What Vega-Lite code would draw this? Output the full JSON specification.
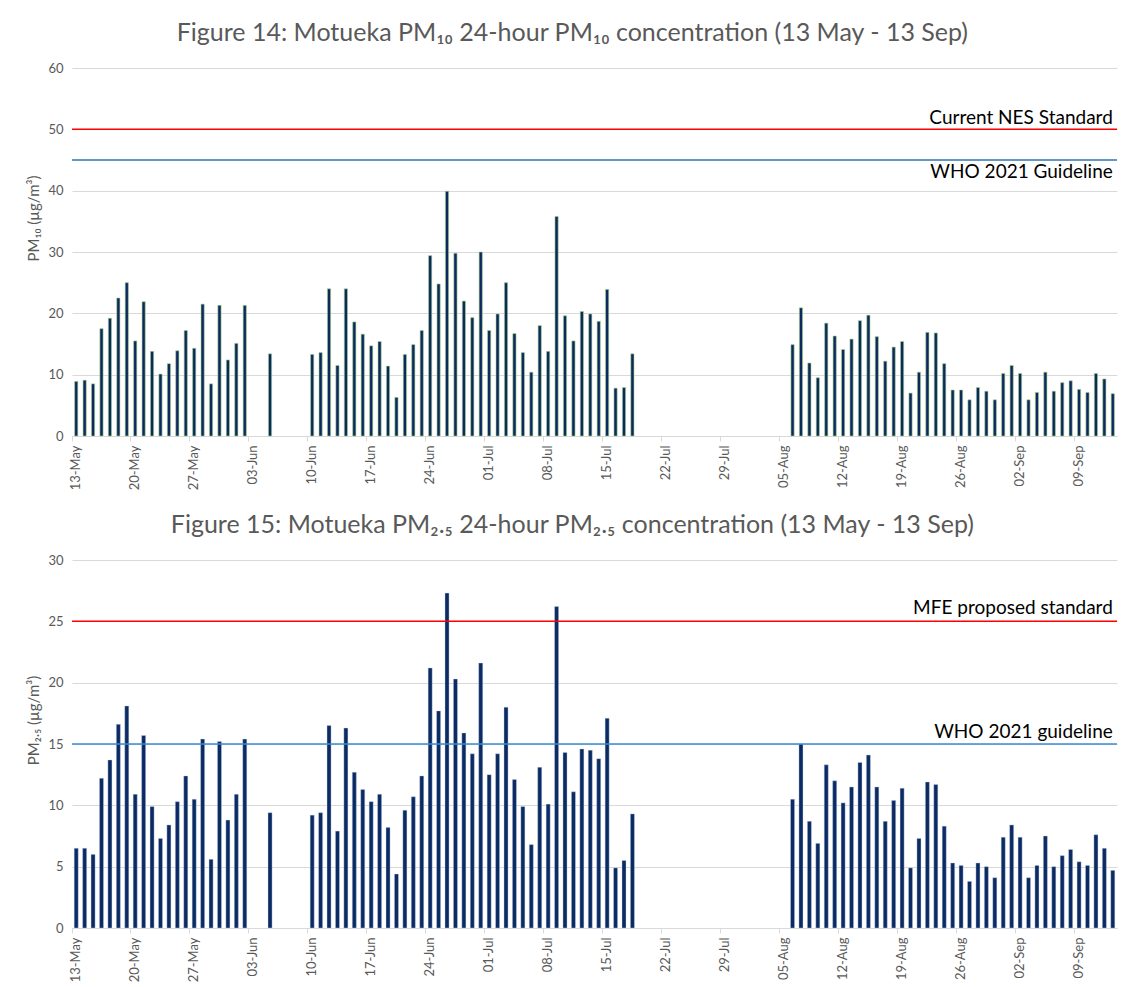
{
  "$schema": "https://vega.github.io/schema/vega-lite/v6.json",
  "padding": {"left": 26, "top": 21, "right": 6, "bottom": 4},
  "background": "white",
  "spacing": 23,
  "config": {
    "font": "Lato",
    "view": {"stroke": null},
    "title": {"fontSize": 25, "fontWeight": "normal", "color": "#595959", "offset": 16, "font": "Lato", "frame": "bounds"},
    "axis": {"labelColor": "#595959", "labelFontSize": 13, "titleColor": "#595959", "titleFontSize": 15, "titleFontWeight": "normal", "gridColor": "#D9D9D9", "domainColor": "#D9D9D9", "tickColor": "#D9D9D9"}
  },
  "datasets": {
    "pm": [
      {"d": "13-May", "pm10": 8.9, "pm25": 6.5},
      {"d": "14-May", "pm10": 9.1, "pm25": 6.5},
      {"d": "15-May", "pm10": 8.5, "pm25": 6.0},
      {"d": "16-May", "pm10": 17.5, "pm25": 12.2},
      {"d": "17-May", "pm10": 19.2, "pm25": 13.7},
      {"d": "18-May", "pm10": 22.5, "pm25": 16.6},
      {"d": "19-May", "pm10": 25.0, "pm25": 18.1},
      {"d": "20-May", "pm10": 15.5, "pm25": 10.9},
      {"d": "21-May", "pm10": 21.9, "pm25": 15.7},
      {"d": "22-May", "pm10": 13.8, "pm25": 9.9},
      {"d": "23-May", "pm10": 10.1, "pm25": 7.3},
      {"d": "24-May", "pm10": 11.8, "pm25": 8.4},
      {"d": "25-May", "pm10": 13.9, "pm25": 10.3},
      {"d": "26-May", "pm10": 17.2, "pm25": 12.4},
      {"d": "27-May", "pm10": 14.3, "pm25": 10.5},
      {"d": "28-May", "pm10": 21.5, "pm25": 15.4},
      {"d": "29-May", "pm10": 8.5, "pm25": 5.6},
      {"d": "30-May", "pm10": 21.3, "pm25": 15.2},
      {"d": "31-May", "pm10": 12.4, "pm25": 8.8},
      {"d": "01-Jun", "pm10": 15.1, "pm25": 10.9},
      {"d": "02-Jun", "pm10": 21.3, "pm25": 15.4},
      {"d": "05-Jun", "pm10": 13.4, "pm25": 9.4},
      {"d": "10-Jun", "pm10": 13.3, "pm25": 9.2},
      {"d": "11-Jun", "pm10": 13.6, "pm25": 9.4},
      {"d": "12-Jun", "pm10": 24.0, "pm25": 16.5},
      {"d": "13-Jun", "pm10": 11.5, "pm25": 7.9},
      {"d": "14-Jun", "pm10": 24.0, "pm25": 16.3},
      {"d": "15-Jun", "pm10": 18.6, "pm25": 12.7},
      {"d": "16-Jun", "pm10": 16.6, "pm25": 11.3},
      {"d": "17-Jun", "pm10": 14.7, "pm25": 10.3},
      {"d": "18-Jun", "pm10": 15.4, "pm25": 10.9},
      {"d": "19-Jun", "pm10": 11.4, "pm25": 8.2},
      {"d": "20-Jun", "pm10": 6.3, "pm25": 4.4},
      {"d": "21-Jun", "pm10": 13.3, "pm25": 9.6},
      {"d": "22-Jun", "pm10": 14.9, "pm25": 10.7},
      {"d": "23-Jun", "pm10": 17.2, "pm25": 12.4},
      {"d": "24-Jun", "pm10": 29.4, "pm25": 21.2},
      {"d": "25-Jun", "pm10": 24.8, "pm25": 17.7},
      {"d": "26-Jun", "pm10": 39.9, "pm25": 27.3},
      {"d": "27-Jun", "pm10": 29.8, "pm25": 20.3},
      {"d": "28-Jun", "pm10": 22.0, "pm25": 15.9},
      {"d": "29-Jun", "pm10": 19.3, "pm25": 14.2},
      {"d": "30-Jun", "pm10": 30.0, "pm25": 21.6},
      {"d": "01-Jul", "pm10": 17.2, "pm25": 12.5},
      {"d": "02-Jul", "pm10": 19.9, "pm25": 14.2},
      {"d": "03-Jul", "pm10": 25.0, "pm25": 18.0},
      {"d": "04-Jul", "pm10": 16.7, "pm25": 12.1},
      {"d": "05-Jul", "pm10": 13.6, "pm25": 9.9},
      {"d": "06-Jul", "pm10": 10.4, "pm25": 6.8},
      {"d": "07-Jul", "pm10": 18.0, "pm25": 13.1},
      {"d": "08-Jul", "pm10": 13.8, "pm25": 10.1},
      {"d": "09-Jul", "pm10": 35.8, "pm25": 26.2},
      {"d": "10-Jul", "pm10": 19.6, "pm25": 14.3},
      {"d": "11-Jul", "pm10": 15.5, "pm25": 11.1},
      {"d": "12-Jul", "pm10": 20.3, "pm25": 14.6},
      {"d": "13-Jul", "pm10": 19.9, "pm25": 14.5},
      {"d": "14-Jul", "pm10": 18.7, "pm25": 13.8},
      {"d": "15-Jul", "pm10": 23.9, "pm25": 17.1},
      {"d": "16-Jul", "pm10": 7.8, "pm25": 4.9},
      {"d": "17-Jul", "pm10": 7.9, "pm25": 5.5},
      {"d": "18-Jul", "pm10": 13.4, "pm25": 9.3},
      {"d": "06-Aug", "pm10": 14.9, "pm25": 10.5},
      {"d": "07-Aug", "pm10": 20.9, "pm25": 15.0},
      {"d": "08-Aug", "pm10": 11.9, "pm25": 8.7},
      {"d": "09-Aug", "pm10": 9.5, "pm25": 6.9},
      {"d": "10-Aug", "pm10": 18.4, "pm25": 13.3},
      {"d": "11-Aug", "pm10": 16.3, "pm25": 12.0},
      {"d": "12-Aug", "pm10": 14.1, "pm25": 10.2},
      {"d": "13-Aug", "pm10": 15.8, "pm25": 11.5},
      {"d": "14-Aug", "pm10": 18.8, "pm25": 13.5},
      {"d": "15-Aug", "pm10": 19.7, "pm25": 14.1},
      {"d": "16-Aug", "pm10": 16.2, "pm25": 11.5},
      {"d": "17-Aug", "pm10": 12.2, "pm25": 8.7},
      {"d": "18-Aug", "pm10": 14.5, "pm25": 10.4},
      {"d": "19-Aug", "pm10": 15.4, "pm25": 11.4},
      {"d": "20-Aug", "pm10": 7.0, "pm25": 4.9},
      {"d": "21-Aug", "pm10": 10.4, "pm25": 7.3},
      {"d": "22-Aug", "pm10": 16.9, "pm25": 11.9},
      {"d": "23-Aug", "pm10": 16.8, "pm25": 11.7},
      {"d": "24-Aug", "pm10": 11.8, "pm25": 8.3},
      {"d": "25-Aug", "pm10": 7.5, "pm25": 5.3},
      {"d": "26-Aug", "pm10": 7.5, "pm25": 5.1},
      {"d": "27-Aug", "pm10": 5.9, "pm25": 3.8},
      {"d": "28-Aug", "pm10": 7.9, "pm25": 5.3},
      {"d": "29-Aug", "pm10": 7.3, "pm25": 5.0},
      {"d": "30-Aug", "pm10": 5.9, "pm25": 4.1},
      {"d": "31-Aug", "pm10": 10.2, "pm25": 7.4},
      {"d": "01-Sep", "pm10": 11.5, "pm25": 8.4},
      {"d": "02-Sep", "pm10": 10.2, "pm25": 7.4},
      {"d": "03-Sep", "pm10": 5.9, "pm25": 4.1},
      {"d": "04-Sep", "pm10": 7.1, "pm25": 5.1},
      {"d": "05-Sep", "pm10": 10.4, "pm25": 7.5},
      {"d": "06-Sep", "pm10": 7.3, "pm25": 5.0},
      {"d": "07-Sep", "pm10": 8.7, "pm25": 5.9},
      {"d": "08-Sep", "pm10": 9.0, "pm25": 6.4},
      {"d": "09-Sep", "pm10": 7.6, "pm25": 5.4},
      {"d": "10-Sep", "pm10": 7.1, "pm25": 5.1},
      {"d": "11-Sep", "pm10": 10.2, "pm25": 7.6},
      {"d": "12-Sep", "pm10": 9.3, "pm25": 6.5},
      {"d": "13-Sep", "pm10": 6.9, "pm25": 4.7}
    ]
  },
  "vconcat": [
    {
      "title": {"text": "Figure 14: Motueka PM₁₀ 24-hour PM₁₀ concentration (13 May - 13 Sep)"},
      "width": 1045,
      "height": 368,
      "layer": [
        {
          "data": {"name": "pm"},
          "mark": {"type": "bar", "width": {"band": 0.38}, "color": "#0B2A5E", "stroke": "#A9D18E", "strokeWidth": 0.6},
          "encoding": {
            "x": {"field": "d", "type": "ordinal", "sort": null,
              "scale": {"domain": ["13-May","14-May","15-May","16-May","17-May","18-May","19-May","20-May","21-May","22-May","23-May","24-May","25-May","26-May","27-May","28-May","29-May","30-May","31-May","01-Jun","02-Jun","03-Jun","04-Jun","05-Jun","06-Jun","07-Jun","08-Jun","09-Jun","10-Jun","11-Jun","12-Jun","13-Jun","14-Jun","15-Jun","16-Jun","17-Jun","18-Jun","19-Jun","20-Jun","21-Jun","22-Jun","23-Jun","24-Jun","25-Jun","26-Jun","27-Jun","28-Jun","29-Jun","30-Jun","01-Jul","02-Jul","03-Jul","04-Jul","05-Jul","06-Jul","07-Jul","08-Jul","09-Jul","10-Jul","11-Jul","12-Jul","13-Jul","14-Jul","15-Jul","16-Jul","17-Jul","18-Jul","19-Jul","20-Jul","21-Jul","22-Jul","23-Jul","24-Jul","25-Jul","26-Jul","27-Jul","28-Jul","29-Jul","30-Jul","31-Jul","01-Aug","02-Aug","03-Aug","04-Aug","05-Aug","06-Aug","07-Aug","08-Aug","09-Aug","10-Aug","11-Aug","12-Aug","13-Aug","14-Aug","15-Aug","16-Aug","17-Aug","18-Aug","19-Aug","20-Aug","21-Aug","22-Aug","23-Aug","24-Aug","25-Aug","26-Aug","27-Aug","28-Aug","29-Aug","30-Aug","31-Aug","01-Sep","02-Sep","03-Sep","04-Sep","05-Sep","06-Sep","07-Sep","08-Sep","09-Sep","10-Sep","11-Sep","12-Sep","13-Sep"], "paddingInner": 0, "paddingOuter": 0},
              "axis": {"title": null, "values": ["13-May","20-May","27-May","03-Jun","10-Jun","17-Jun","24-Jun","01-Jul","08-Jul","15-Jul","22-Jul","29-Jul","05-Aug","12-Aug","19-Aug","26-Aug","02-Sep","09-Sep"], "bandPosition": 0, "labelAngle": -90, "tickSize": 5, "labelPadding": 4, "grid": false}
            },
            "y": {"field": "pm10", "type": "quantitative",
              "scale": {"domain": [0, 60], "nice": false},
              "axis": {"title": "PM₁₀ (µg/m³)", "values": [0,10,20,30,40,50,60], "domain": false, "ticks": false, "labelPadding": 9, "titlePadding": 6, "titleY": 150}
            }
          }
        },
        {
          "data": {"values": [{}]},
          "mark": {"type": "rule", "color": "#FF0000", "strokeWidth": 1.5},
          "encoding": {"y": {"datum": 50, "type": "quantitative"}}
        },
        {
          "data": {"values": [{}]},
          "mark": {"type": "rule", "color": "#2E75B6", "strokeWidth": 1.5},
          "encoding": {"y": {"datum": 45, "type": "quantitative"}}
        },
        {
          "data": {"values": [{}]},
          "mark": {"type": "text", "text": "Current NES Standard", "align": "right", "baseline": "alphabetic", "dy": -5, "fontSize": 19, "color": "#000000"},
          "encoding": {"x": {"datum": "13-Sep", "type": "ordinal"}, "y": {"datum": 50, "type": "quantitative"}}
        },
        {
          "data": {"values": [{}]},
          "mark": {"type": "text", "text": "WHO 2021 Guideline", "align": "right", "baseline": "top", "dy": 3, "fontSize": 19, "color": "#000000"},
          "encoding": {"x": {"datum": "13-Sep", "type": "ordinal"}, "y": {"datum": 45, "type": "quantitative"}}
        }
      ]
    },
    {
      "title": {"text": "Figure 15: Motueka PM₂.₅ 24-hour PM₂.₅ concentration (13 May - 13 Sep)"},
      "width": 1045,
      "height": 368,
      "layer": [
        {
          "data": {"name": "pm"},
          "mark": {"type": "bar", "width": {"band": 0.48}, "color": "#0B2B64", "stroke": "#C9D3E3", "strokeWidth": 0.4},
          "encoding": {
            "x": {"field": "d", "type": "ordinal", "sort": null,
              "scale": {"domain": ["13-May","14-May","15-May","16-May","17-May","18-May","19-May","20-May","21-May","22-May","23-May","24-May","25-May","26-May","27-May","28-May","29-May","30-May","31-May","01-Jun","02-Jun","03-Jun","04-Jun","05-Jun","06-Jun","07-Jun","08-Jun","09-Jun","10-Jun","11-Jun","12-Jun","13-Jun","14-Jun","15-Jun","16-Jun","17-Jun","18-Jun","19-Jun","20-Jun","21-Jun","22-Jun","23-Jun","24-Jun","25-Jun","26-Jun","27-Jun","28-Jun","29-Jun","30-Jun","01-Jul","02-Jul","03-Jul","04-Jul","05-Jul","06-Jul","07-Jul","08-Jul","09-Jul","10-Jul","11-Jul","12-Jul","13-Jul","14-Jul","15-Jul","16-Jul","17-Jul","18-Jul","19-Jul","20-Jul","21-Jul","22-Jul","23-Jul","24-Jul","25-Jul","26-Jul","27-Jul","28-Jul","29-Jul","30-Jul","31-Jul","01-Aug","02-Aug","03-Aug","04-Aug","05-Aug","06-Aug","07-Aug","08-Aug","09-Aug","10-Aug","11-Aug","12-Aug","13-Aug","14-Aug","15-Aug","16-Aug","17-Aug","18-Aug","19-Aug","20-Aug","21-Aug","22-Aug","23-Aug","24-Aug","25-Aug","26-Aug","27-Aug","28-Aug","29-Aug","30-Aug","31-Aug","01-Sep","02-Sep","03-Sep","04-Sep","05-Sep","06-Sep","07-Sep","08-Sep","09-Sep","10-Sep","11-Sep","12-Sep","13-Sep"], "paddingInner": 0, "paddingOuter": 0},
              "axis": {"title": null, "values": ["13-May","20-May","27-May","03-Jun","10-Jun","17-Jun","24-Jun","01-Jul","08-Jul","15-Jul","22-Jul","29-Jul","05-Aug","12-Aug","19-Aug","26-Aug","02-Sep","09-Sep"], "bandPosition": 0, "labelAngle": -90, "tickSize": 5, "labelPadding": 4, "grid": false}
            },
            "y": {"field": "pm25", "type": "quantitative",
              "scale": {"domain": [0, 30], "nice": false},
              "axis": {"title": "PM₂.₅ (µg/m³)", "values": [0,5,10,15,20,25,30], "domain": false, "ticks": false, "labelPadding": 9, "titlePadding": 6, "titleY": 160}
            }
          }
        },
        {
          "data": {"values": [{}]},
          "mark": {"type": "rule", "color": "#FF0000", "strokeWidth": 1.5},
          "encoding": {"y": {"datum": 25, "type": "quantitative"}}
        },
        {
          "data": {"values": [{}]},
          "mark": {"type": "rule", "color": "#3A8BD2", "strokeWidth": 1.5},
          "encoding": {"y": {"datum": 15, "type": "quantitative"}}
        },
        {
          "data": {"values": [{}]},
          "mark": {"type": "text", "text": "MFE proposed standard", "align": "right", "baseline": "alphabetic", "dy": -7, "fontSize": 19, "color": "#000000"},
          "encoding": {"x": {"datum": "13-Sep", "type": "ordinal"}, "y": {"datum": 25, "type": "quantitative"}}
        },
        {
          "data": {"values": [{}]},
          "mark": {"type": "text", "text": "WHO 2021 guideline", "align": "right", "baseline": "alphabetic", "dy": -6, "fontSize": 19, "color": "#000000"},
          "encoding": {"x": {"datum": "13-Sep", "type": "ordinal"}, "y": {"datum": 15, "type": "quantitative"}}
        }
      ]
    }
  ]
}
